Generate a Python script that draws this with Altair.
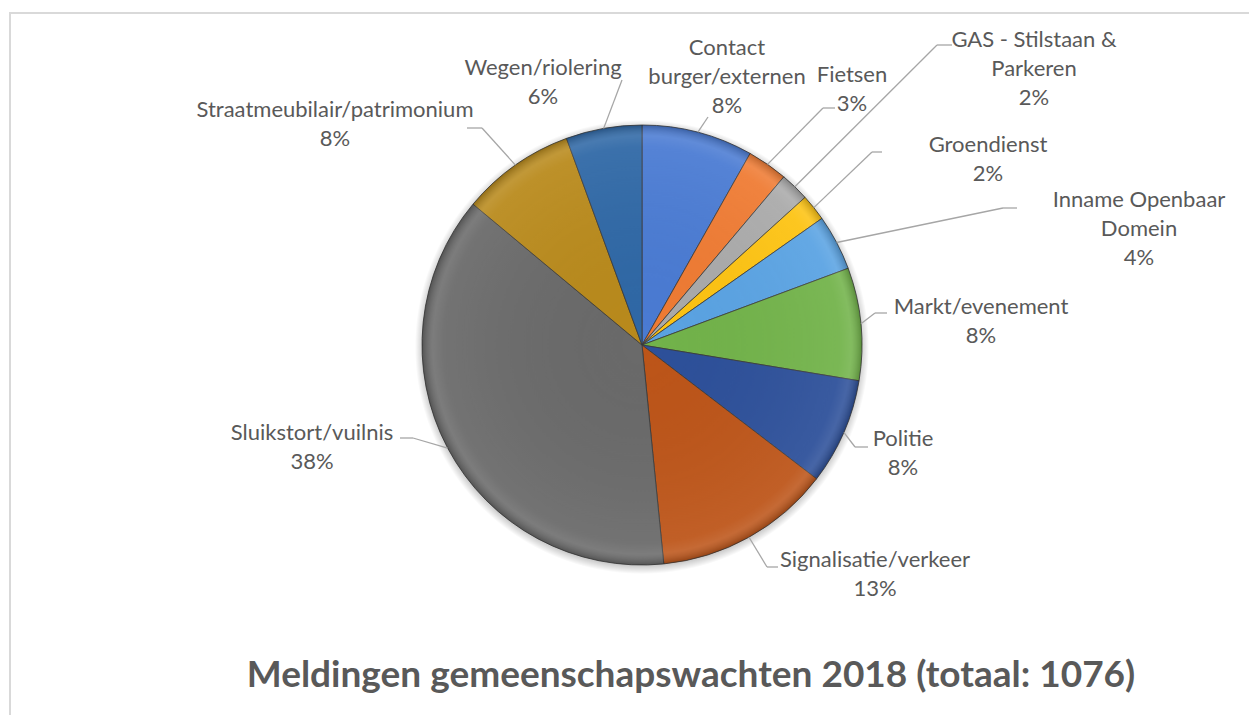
import altair as alt
import pandas as pd

# ---------------- data ----------------
categories = [
    "Contact burger/externen", "Fietsen", "GAS - Stilstaan & Parkeren",
    "Groendienst", "Inname Openbaar Domein", "Markt/evenement", "Politie",
    "Signalisatie/verkeer", "Sluikstort/vuilnis",
    "Straatmeubilair/patrimonium", "Wegen/riolering",
]
counts = [88, 32, 23, 21, 44, 89, 84, 140, 405, 90, 60]
# how the category names are wrapped in the labels
label_lines = [
    "Contact|burger/externen", "Fietsen", "GAS - Stilstaan &|Parkeren",
    "Groendienst", "Inname Openbaar|Domein", "Markt/evenement", "Politie",
    "Signalisatie/verkeer", "Sluikstort/vuilnis",
    "Straatmeubilair/patrimonium", "Wegen/riolering",
]
colors = [
    "#4a7bd3", "#ef7b33", "#aaaaaa", "#fdc312", "#5aa3e3", "#72b34a",
    "#2d509a", "#bd5519", "#6a6a6a", "#b98a1c", "#2f68a6",
]
title_text = "Meldingen gemeenschapswachten 2018 (totaal: 1076)"

# ---------------- layout (label placement, like Excel's stored label positions) ----------------
CX, CY, R = 634, 337, 220          # pie centre / radius in plot pixels
# label position (centre of first line), offset from the pie centre
label_dx = [85, 210, 392, 346, 497, 339, 261, 233, -330, -307, -99]
label_dy = [-297, -270, -305, -200, -145, -38, 94, 215, 88, -235, -277]
# elbow of the leader line and end of its short horizontal stub (offsets from pie centre)
elbow_dx = [66, 181, 295, 230, 361, 233, 213, 125, -229, -160, -20]
elbow_dy = [-228, -237, -300, -193, -137, -32, 102, 222, 93, -217, -265]
stub_dx = [66, 193, 310, 240, 375, 245, 226, 136, -242, -175, -20]

df = pd.DataFrame({
    "idx": list(range(len(categories))),
    "category": categories,
    "count": counts,
    "lines": label_lines,
    "ldx": label_dx, "ldy": label_dy,
    "edx": elbow_dx, "edy": elbow_dy, "sdx": stub_dx,
})

base = alt.Chart(df).transform_joinaggregate(
    total="sum(count)"
).transform_window(
    cum="sum(count)", sort=[alt.SortField("idx")], frame=[None, 0]
).transform_calculate(
    sx=f"{CX} + {R} * sin((datum.cum - datum.count/2) / datum.total * 2 * PI)",
    sy=f"{CY} - {R} * cos((datum.cum - datum.count/2) / datum.total * 2 * PI)",
    ex=f"{CX} + datum.edx", ey=f"{CY} + datum.edy",
    tx=f"{CX} + datum.sdx",
    lx=f"{CX} + datum.ldx", ly=f"{CY} + datum.ldy",
    label="split(datum.lines + '|' + format(datum.count / datum.total, '.0%'), '|')",
)

color_scale = alt.Scale(domain=categories, range=colors)

one = pd.DataFrame({"k": [0]})

glow = alt.Chart(one).mark_arc(
    theta=0, theta2=6.2832, outerRadius=R + 7, strokeWidth=0,
    fill={
        "gradient": "radial", "x1": 0.5, "y1": 0.5, "r1": 0,
        "x2": 0.5, "y2": 0.5, "r2": 0.5,
        "stops": [
            {"offset": 0, "color": "rgba(0,0,0,0.25)"},
            {"offset": 0.96, "color": "rgba(0,0,0,0.22)"},
            {"offset": 1, "color": "rgba(0,0,0,0)"},
        ],
    },
).encode(x=alt.value(CX), y=alt.value(CY + 2))

pie = alt.Chart(df).mark_arc(
    outerRadius=R, stroke="#3a3a3a", strokeWidth=0.8
).encode(
    theta=alt.Theta("count:Q", stack=True),
    order=alt.Order("idx:Q"),
    color=alt.Color("category:N", scale=color_scale, legend=None),
    x=alt.value(CX), y=alt.value(CY),
)

shade = alt.Chart(one).mark_arc(
    theta=0, theta2=6.2832, outerRadius=R, strokeWidth=0,
    fill={
        "gradient": "radial", "x1": 0.5, "y1": 0.5, "r1": 0,
        "x2": 0.5, "y2": 0.5, "r2": 0.5,
        "stops": [
            {"offset": 0, "color": "rgba(0,0,0,0)"},
            {"offset": 0.9, "color": "rgba(255,255,255,0.06)"},
            {"offset": 0.95, "color": "rgba(255,255,255,0.12)"},
            {"offset": 1, "color": "rgba(0,0,0,0.22)"},
        ],
    },
).encode(x=alt.value(CX), y=alt.value(CY))

seg1 = base.mark_rule(color="#a6a6a6", strokeWidth=1.3).encode(
    x=alt.X("sx:Q", scale=None), y=alt.Y("sy:Q", scale=None),
    x2="ex:Q", y2="ey:Q",
)
seg2 = base.mark_rule(color="#a6a6a6", strokeWidth=1.3).encode(
    x=alt.X("ex:Q", scale=None), y=alt.Y("ey:Q", scale=None),
    x2="tx:Q", y2="ey:Q",
)

labels = base.mark_text(
    font="Lato", fontSize=22, color="#595959", lineHeight=29,
    align="center", baseline="middle",
).encode(
    x=alt.X("lx:Q", scale=None), y=alt.Y("ly:Q", scale=None),
    text=alt.Text("label:N"),
)

title = alt.Chart(pd.DataFrame({"t": [title_text]})).mark_text(
    font="Lato", fontSize=37, fontWeight="bold", color="#595959",
    align="center", baseline="middle",
).encode(x=alt.value(683), y=alt.value(668), text="t:N")

frame = alt.Chart(one).mark_rect(
    fill=None, stroke="#d9d9d9", strokeWidth=2,
).encode(x=alt.value(2), y=alt.value(5), x2=alt.value(1400), y2=alt.value(900))

chart = alt.layer(frame, glow, pie, shade, seg1, seg2, labels, title).properties(
    width=1241, height=707, padding=0,
    autosize=alt.AutoSizeParams(type="none"),
    background="white",
).configure_view(stroke=None)

chart.save("out.html", embed_options={"renderer": "svg", "actions": False})
